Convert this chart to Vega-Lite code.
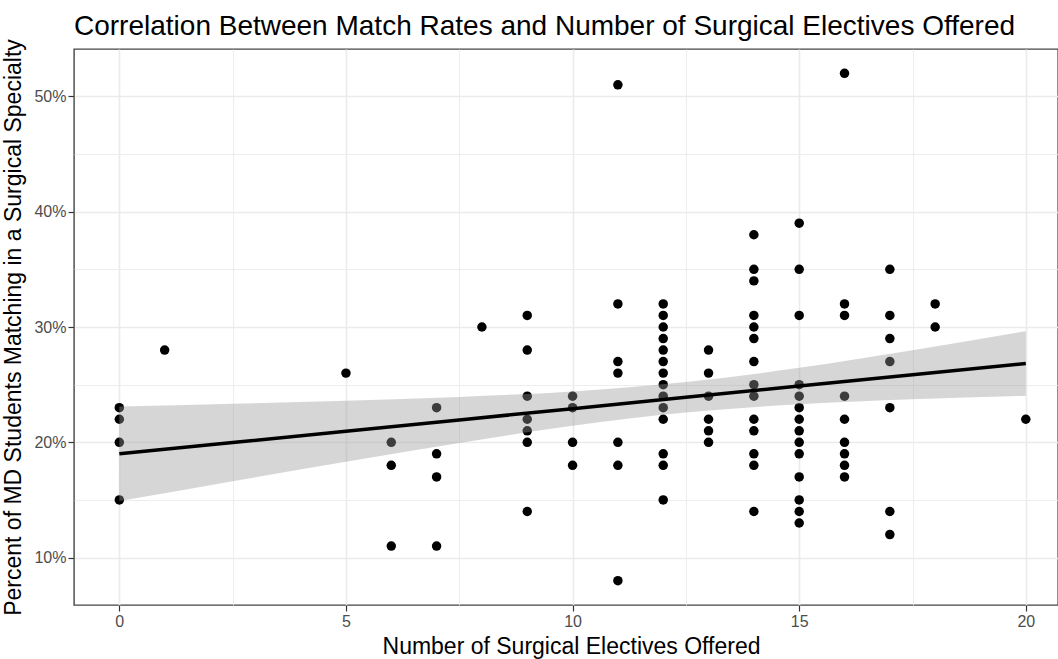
{
  "$schema": "https://vega.github.io/schema/vega-lite/v6.json",
  "width": 984,
  "height": 556,
  "autosize": {"type": "none"},
  "padding": {"left": 74, "top": 49, "right": 0, "bottom": 54},
  "background": "white",
  "config": {
    "font": "Liberation Sans",
    "view": {"stroke": "#444444", "strokeWidth": 1.4},
    "axis": {
      "domain": false,
      "gridColor": "#EBEBEB",
      "tickColor": "#333333",
      "tickWidth": 1.2,
      "tickSize": 6,
      "labelFont": "Liberation Sans",
      "labelFontSize": 16,
      "labelColor": "#4D4D4D",
      "labelPadding": 2,
      "titleFont": "Liberation Sans",
      "titleFontSize": 23,
      "titleFontWeight": "normal",
      "titleColor": "#000000"
    }
  },
  "title": {
    "text": "Correlation Between Match Rates and Number of Surgical Electives Offered",
    "anchor": "start",
    "frame": "group",
    "font": "Liberation Sans",
    "fontSize": 28,
    "fontWeight": "normal",
    "color": "#000000",
    "offset": -2
  },
  "datasets": {
    "schools": [
      {"electives": 0, "pct": 23}, {"electives": 0, "pct": 22}, {"electives": 0, "pct": 20}, {"electives": 0, "pct": 15},
      {"electives": 1, "pct": 28},
      {"electives": 5, "pct": 26},
      {"electives": 6, "pct": 20}, {"electives": 6, "pct": 18}, {"electives": 6, "pct": 11},
      {"electives": 7, "pct": 23}, {"electives": 7, "pct": 19}, {"electives": 7, "pct": 17}, {"electives": 7, "pct": 11},
      {"electives": 8, "pct": 30},
      {"electives": 9, "pct": 31}, {"electives": 9, "pct": 28}, {"electives": 9, "pct": 24}, {"electives": 9, "pct": 22}, {"electives": 9, "pct": 21}, {"electives": 9, "pct": 20}, {"electives": 9, "pct": 14},
      {"electives": 10, "pct": 24}, {"electives": 10, "pct": 23}, {"electives": 10, "pct": 20}, {"electives": 10, "pct": 18},
      {"electives": 11, "pct": 51}, {"electives": 11, "pct": 32}, {"electives": 11, "pct": 27}, {"electives": 11, "pct": 26}, {"electives": 11, "pct": 20}, {"electives": 11, "pct": 18}, {"electives": 11, "pct": 8},
      {"electives": 12, "pct": 32}, {"electives": 12, "pct": 31}, {"electives": 12, "pct": 30}, {"electives": 12, "pct": 29}, {"electives": 12, "pct": 28}, {"electives": 12, "pct": 27}, {"electives": 12, "pct": 26}, {"electives": 12, "pct": 25}, {"electives": 12, "pct": 24}, {"electives": 12, "pct": 23}, {"electives": 12, "pct": 22}, {"electives": 12, "pct": 19}, {"electives": 12, "pct": 18}, {"electives": 12, "pct": 15},
      {"electives": 13, "pct": 28}, {"electives": 13, "pct": 26}, {"electives": 13, "pct": 24}, {"electives": 13, "pct": 22}, {"electives": 13, "pct": 21}, {"electives": 13, "pct": 20},
      {"electives": 14, "pct": 38}, {"electives": 14, "pct": 35}, {"electives": 14, "pct": 34}, {"electives": 14, "pct": 31}, {"electives": 14, "pct": 30}, {"electives": 14, "pct": 29}, {"electives": 14, "pct": 27}, {"electives": 14, "pct": 25}, {"electives": 14, "pct": 24}, {"electives": 14, "pct": 22}, {"electives": 14, "pct": 21}, {"electives": 14, "pct": 19}, {"electives": 14, "pct": 18}, {"electives": 14, "pct": 14},
      {"electives": 15, "pct": 39}, {"electives": 15, "pct": 35}, {"electives": 15, "pct": 31}, {"electives": 15, "pct": 25}, {"electives": 15, "pct": 24}, {"electives": 15, "pct": 23}, {"electives": 15, "pct": 22}, {"electives": 15, "pct": 21}, {"electives": 15, "pct": 20}, {"electives": 15, "pct": 19}, {"electives": 15, "pct": 17}, {"electives": 15, "pct": 15}, {"electives": 15, "pct": 14}, {"electives": 15, "pct": 13},
      {"electives": 16, "pct": 52}, {"electives": 16, "pct": 32}, {"electives": 16, "pct": 31}, {"electives": 16, "pct": 24}, {"electives": 16, "pct": 22}, {"electives": 16, "pct": 20}, {"electives": 16, "pct": 19}, {"electives": 16, "pct": 18}, {"electives": 16, "pct": 17},
      {"electives": 17, "pct": 35}, {"electives": 17, "pct": 31}, {"electives": 17, "pct": 29}, {"electives": 17, "pct": 27}, {"electives": 17, "pct": 23}, {"electives": 17, "pct": 14}, {"electives": 17, "pct": 12},
      {"electives": 18, "pct": 32}, {"electives": 18, "pct": 30},
      {"electives": 20, "pct": 22}
    ],
    "fit": [
      {"electives": 0, "fit": 19.00, "lo": 14.90, "hi": 23.10},
      {"electives": 2.5, "fit": 19.98, "lo": 16.62, "hi": 23.34},
      {"electives": 5, "fit": 20.96, "lo": 18.31, "hi": 23.61},
      {"electives": 7.5, "fit": 21.94, "lo": 19.94, "hi": 23.94},
      {"electives": 10, "fit": 22.92, "lo": 21.43, "hi": 24.41},
      {"electives": 12.5, "fit": 23.90, "lo": 22.58, "hi": 25.22},
      {"electives": 15, "fit": 24.88, "lo": 23.30, "hi": 26.46},
      {"electives": 17.5, "fit": 25.86, "lo": 23.73, "hi": 27.99},
      {"electives": 20, "fit": 26.84, "lo": 24.04, "hi": 29.64}
    ]
  },
  "encoding": {
    "x": {
      "field": "electives", "type": "quantitative",
      "scale": {"domain": [-1, 20.71], "nice": false, "zero": false},
      "axis": {
        "title": "Number of Surgical Electives Offered",
        "values": [0, 2.5, 5, 7.5, 10, 12.5, 15, 17.5, 20],
        "labelExpr": "datum.value % 5 === 0 ? datum.value : ''",
        "gridWidth": {"condition": {"test": "datum.value % 5 === 0", "value": 1.6}, "value": 0.9},
        "tickOpacity": {"condition": {"test": "datum.value % 5 === 0", "value": 1}, "value": 0},
        "titleX": 497,
        "titlePadding": 6
      }
    }
  },
  "layer": [
    {
      "data": {"name": "schools"},
      "mark": {"type": "point", "filled": true, "color": "#000000", "opacity": 1, "size": 90},
      "encoding": {
        "y": {
          "field": "pct", "type": "quantitative",
          "scale": {"domain": [5.89, 54.11], "nice": false, "zero": false},
          "axis": {
            "title": "Percent of MD Students Matching in a Surgical Specialty",
            "values": [10, 15, 20, 25, 30, 35, 40, 45, 50],
            "labelExpr": "datum.value % 10 === 0 ? datum.value + '%' : ''",
            "gridWidth": {"condition": {"test": "datum.value % 10 === 0", "value": 1.6}, "value": 0.9},
            "tickOpacity": {"condition": {"test": "datum.value % 10 === 0", "value": 1}, "value": 0},
            "titlePadding": 8
          }
        }
      }
    },
    {
      "data": {"name": "fit"},
      "mark": {"type": "area", "color": "#999999", "opacity": 0.4, "interpolate": "monotone"},
      "encoding": {
        "y": {"field": "lo", "type": "quantitative", "title": "Percent of MD Students Matching in a Surgical Specialty"},
        "y2": {"field": "hi"}
      }
    },
    {
      "data": {"name": "fit"},
      "mark": {"type": "line", "color": "#000000", "strokeWidth": 3.5},
      "encoding": {
        "y": {"field": "fit", "type": "quantitative", "title": "Percent of MD Students Matching in a Surgical Specialty"}
      }
    }
  ]
}
